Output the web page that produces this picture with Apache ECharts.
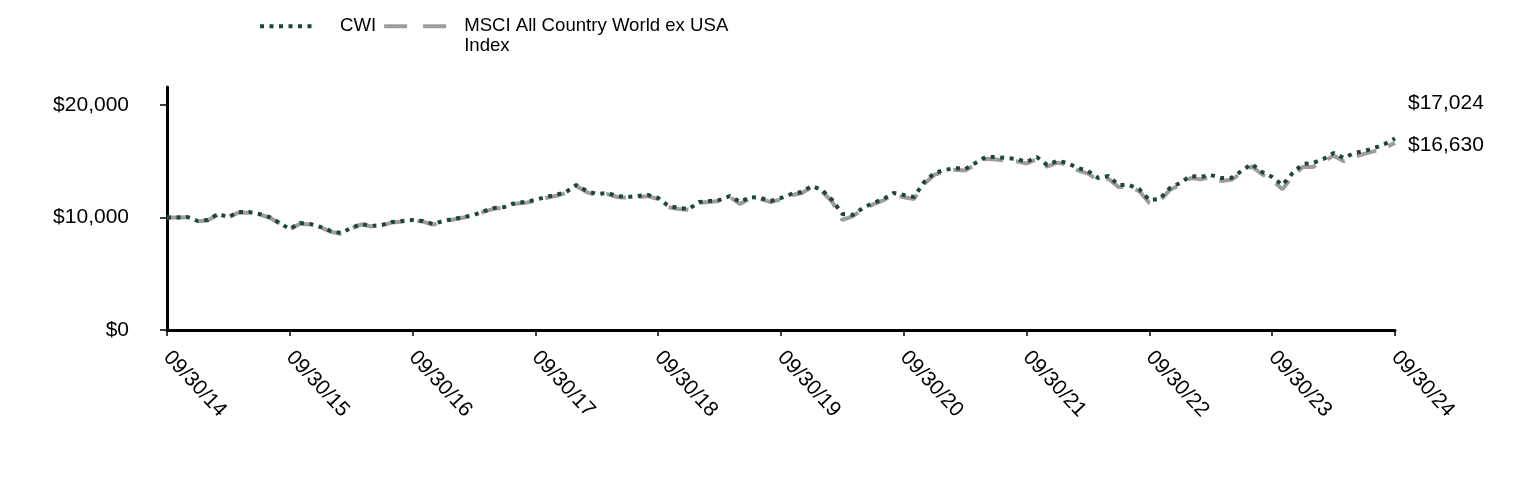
<!DOCTYPE html>
<html>
<head>
<meta charset="utf-8">
<script src="https://cdn.jsdelivr.net/npm/echarts@6/dist/echarts.min.js"></script>
<style>
html,body{margin:0;padding:0;background:#fff;}
#chart{width:1524px;height:480px;}
</style>
</head>
<body>
<div id="chart"></div>
<script>
// Month-end dates from 09/30/14 to 09/30/24
const categories = [];
for (let i = 0; i <= 120; i++) {
  const m = (8 + i) % 12;
  const y = 2014 + Math.floor((8 + i) / 12);
  const d = new Date(Date.UTC(y, m + 1, 0)).getUTCDate();
  categories.push(String(m + 1).padStart(2, '0') + '/' + String(d).padStart(2, '0') + '/' + String(y % 100).padStart(2, '0'));
}

const seriesNames = ['CWI', 'MSCI All Country World ex USA Index'];

const cwi = [
  10000, 10000, 10044, 9689, 9778, 10311, 10044, 10489, 10489, 10311, 10044, 9511,
  8978, 9511, 9422, 9156, 8800, 8622, 9067, 9422, 9244, 9333, 9600, 9689,
  9778, 9689, 9422, 9689, 9867, 10044, 10222, 10578, 10844, 10933, 11289, 11378,
  11556, 11822, 12000, 12267, 12889, 12356, 12089, 12178, 11911, 11822, 11911, 12000,
  11733, 11022, 10844, 10756, 11378, 11467, 11556, 11911, 11378, 11822, 11733, 11467,
  11733, 12089, 12267, 12800, 12444, 11556, 10311, 10222, 10844, 11289, 11644, 12178,
  12000, 11822, 13156, 13956, 14222, 14400, 14311, 14844, 15378, 15378, 15289, 15200,
  14933, 15378, 14667, 15022, 14844, 14400, 14133, 13511, 13689, 12889, 12889, 12533,
  11556, 11644, 12622, 13067, 13689, 13600, 13778, 13511, 13511, 14133, 14756, 14044,
  13600, 12889, 13956, 14756, 14844, 15200, 15733, 15289, 15733, 15911, 16178, 16533,
  17024
];

const msci = [
  10000, 9990, 10030, 9650, 9760, 10280, 10000, 10450, 10430, 10280, 10000, 9480,
  8950, 9450, 9380, 9100, 8740, 8560, 9020, 9380, 9200, 9300, 9560, 9640,
  9720, 9640, 9360, 9640, 9820, 10000, 10180, 10520, 10790, 10880, 11220, 11300,
  11480, 11740, 11920, 12180, 12800, 12260, 11980, 12080, 11820, 11740, 11820, 11900,
  11640, 10920, 10760, 10680, 11300, 11380, 11460, 11820, 11200, 11720, 11640, 11360,
  11620, 11980, 12160, 12700, 12330, 11400, 9780, 10100, 10720, 11160, 11520, 12060,
  11800, 11650, 13000, 13800, 14080, 14250, 14180, 14700, 15220, 15150, 15050, 15000,
  14800, 15200, 14520, 14880, 14700, 14200, 13900, 13300, 13450, 12700, 12750, 12350,
  11300, 11450, 12450, 12900, 13500, 13400, 13600, 13250, 13350, 13950, 14550, 13850,
  13350, 12500, 13700, 14500, 14500, 14950, 15500, 15000, 15400, 15650, 15900, 16200,
  16630
];

const yTickValues = [0, 10000, 20000];

const GREEN = '#1f4739';
const GREY = '#a09c9c';
const FONT = "'Liberation Sans', Arial, sans-serif";

function money(v) {
  return '$' + Number(v).toLocaleString('en-US');
}

const chart = echarts.init(document.getElementById('chart'), null, { renderer: 'canvas' });
chart.setOption({
  animation: false,
  backgroundColor: '#ffffff',
  textStyle: { fontFamily: FONT },
  grid: { left: 167, right: 129, top: 87, bottom: 150, containLabel: false },
  legend: {
    left: 258,
    top: -3,
    padding: 0,
    orient: 'horizontal',
    itemWidth: 75,
    itemHeight: 10,
    itemGap: 6,
    itemStyle: { opacity: 0, color: 'rgba(0,0,0,0)', borderWidth: 0 },
    lineStyle: { width: 4 },
    textStyle: { fontSize: 18.6, color: '#000', fontFamily: FONT, lineHeight: 19.5 },
    formatter: function (name) {
      if (name === seriesNames[1]) return '\nMSCI All Country World ex USA\nIndex';
      return name;
    },
    data: [
      { name: seriesNames[0], lineStyle: { width: 4, type: [4, 5.5, 4, 5.5, 4, 5.5, 4, 5.5, 4, 5.5, 4, 40] } },
      { name: seriesNames[1], lineStyle: { width: 4, type: [23, 16] } }
    ]
  },
  xAxis: {
    type: 'category',
    data: categories,
    boundaryGap: false,
    axisLine: { show: true, lineStyle: { color: '#000', width: 3 } },
    axisTick: { show: true, interval: 11, length: 6, lineStyle: { color: '#000', width: 1.5 } },
    axisLabel: {
      interval: 11,
      rotate: -47,
      fontSize: 21,
      color: '#000',
      margin: 24,
      fontFamily: FONT
    },
    splitLine: { show: false }
  },
  yAxis: {
    type: 'value',
    min: 0,
    max: 21600,
    axisLine: { show: true, lineStyle: { color: '#000', width: 3 } },
    axisTick: { show: true, length: 7, customValues: yTickValues, lineStyle: { color: '#000', width: 1.5 } },
    axisLabel: {
      customValues: yTickValues,
      fontSize: 21,
      color: '#000',
      margin: 38,
      fontFamily: FONT,
      formatter: function (v) { return money(v); }
    },
    splitLine: { show: false }
  },
  series: [
    {
      name: seriesNames[1],
      type: 'line',
      data: msci,
      symbol: 'none',
      z: 2,
      lineStyle: { color: GREY, width: 4, type: [20, 13] },
      itemStyle: { color: GREY },
      endLabel: {
        show: true,
        distance: 13,
        offset: [0, 2],
        fontSize: 21,
        color: '#000',
        fontFamily: FONT,
        formatter: function (p) { return money(p.value); }
      }
    },
    {
      name: seriesNames[0],
      type: 'line',
      data: cwi,
      symbol: 'none',
      z: 3,
      lineStyle: { color: GREEN, width: 4, type: [4, 5.5] },
      itemStyle: { color: GREEN },
      endLabel: {
        show: true,
        distance: 13,
        offset: [0, -35],
        fontSize: 21,
        color: '#000',
        fontFamily: FONT,
        formatter: function (p) { return money(p.value); }
      }
    }
  ]
});
</script>
</body>
</html>
